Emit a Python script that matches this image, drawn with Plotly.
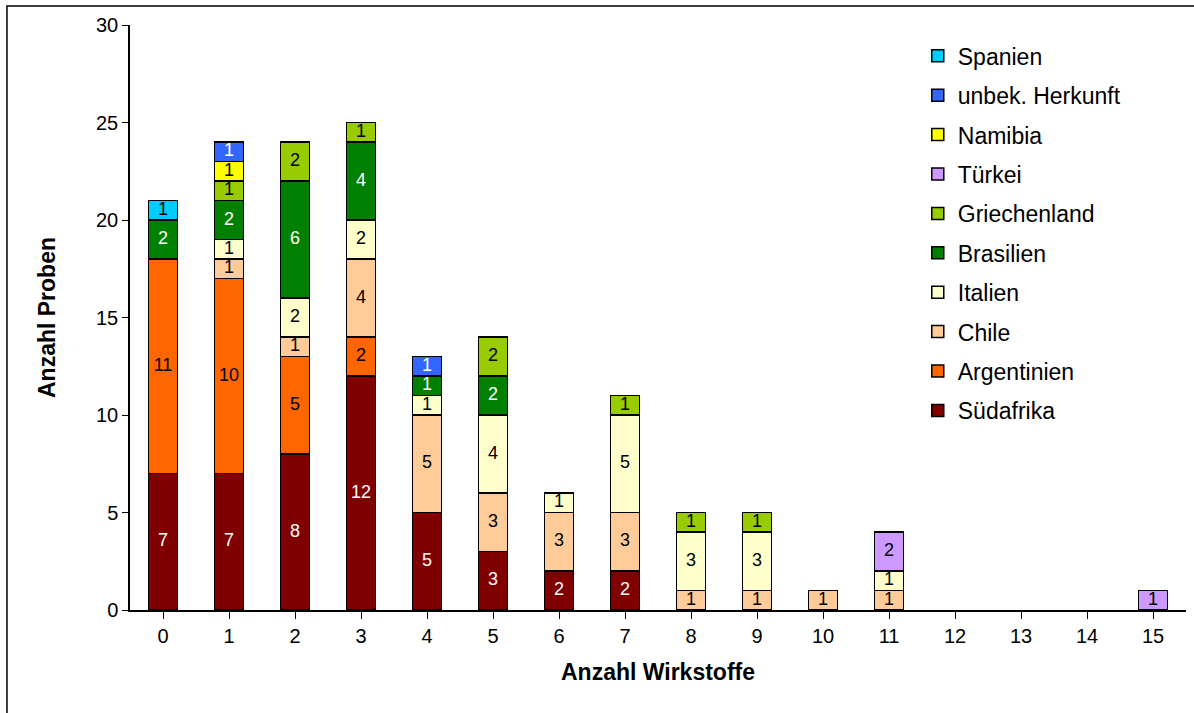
import plotly.graph_objects as go

# Anzahl Wirkstoffe je Probe (x) und Anzahl Proben je Herkunftsland
wirkstoffe = list(range(16))

suedafrika   = [7, 7, 8, 12, 5, 3, 2, 2, 0, 0, 0, 0, 0, 0, 0, 0]
argentinien  = [11, 10, 5, 2, 0, 0, 0, 0, 0, 0, 0, 0, 0, 0, 0, 0]
chile        = [0, 1, 1, 4, 5, 3, 3, 3, 1, 1, 1, 1, 0, 0, 0, 0]
italien      = [0, 1, 2, 2, 1, 4, 1, 5, 3, 3, 0, 1, 0, 0, 0, 0]
brasilien    = [2, 2, 6, 4, 1, 2, 0, 0, 0, 0, 0, 0, 0, 0, 0, 0]
griechenland = [0, 1, 2, 1, 0, 2, 0, 1, 1, 1, 0, 0, 0, 0, 0, 0]
tuerkei      = [0, 0, 0, 0, 0, 0, 0, 0, 0, 0, 0, 2, 0, 0, 0, 1]
namibia      = [0, 1, 0, 0, 0, 0, 0, 0, 0, 0, 0, 0, 0, 0, 0, 0]
unbekannt    = [0, 1, 0, 0, 1, 0, 0, 0, 0, 0, 0, 0, 0, 0, 0, 0]
spanien      = [1, 0, 0, 0, 0, 0, 0, 0, 0, 0, 0, 0, 0, 0, 0, 0]

# (name, values, fill colour, label colour) stacked from bottom to top
serien = [
    ("Südafrika", suedafrika, "#800000", "white"),
    ("Argentinien", argentinien, "#FF6600", "black"),
    ("Chile", chile, "#FFCC99", "black"),
    ("Italien", italien, "#FFFFCC", "black"),
    ("Brasilien", brasilien, "#008000", "white"),
    ("Griechenland", griechenland, "#99CC00", "black"),
    ("Türkei", tuerkei, "#CC99FF", "black"),
    ("Namibia", namibia, "#FFFF00", "black"),
    ("unbek. Herkunft", unbekannt, "#3366FF", "white"),
    ("Spanien", spanien, "#00CCFF", "black"),
]

FONT = "Liberation Sans, Arial, sans-serif"

fig = go.Figure()
basis = [0] * len(wirkstoffe)
for k, (name, werte, farbe, textfarbe) in enumerate(serien):
    fig.add_trace(go.Bar(
        x=wirkstoffe,
        y=[v if v else None for v in werte],
        name=name,
        legendgroup=name,
        legendrank=100 - k,  # top series listed first in the legend
        marker=dict(color=farbe, line=dict(color="black", width=1.5)),
        hoverinfo="x+y+name",
    ))
    # segment labels, centred in each stacked segment
    xs, ys, ts = [], [], []
    for i, v in enumerate(werte):
        if v:
            xs.append(wirkstoffe[i])
            ys.append(basis[i] + v / 2)
            ts.append(str(v))
        basis[i] += v
    fig.add_trace(go.Scatter(
        x=xs, y=ys, text=ts, mode="text",
        textposition="middle center",
        textfont=dict(color=textfarbe, size=18, family=FONT),
        showlegend=False, hoverinfo="skip",
    ))

fig.update_layout(
    barmode="stack",
    bargap=0.56,
    width=1194,
    height=713,
    margin=dict(l=130, r=8, t=25, b=103),
    paper_bgcolor="white",
    plot_bgcolor="white",
    font=dict(family=FONT, color="black", size=20),
    legend=dict(
        traceorder="grouped",
        x=0.746, y=0.984, xanchor="left", yanchor="top",
        font=dict(size=23, family=FONT),
        tracegroupgap=6.5,
        bgcolor="rgba(0,0,0,0)",
    ),
    xaxis=dict(
        range=[-0.5, 15.5],
        tickmode="array",
        tickvals=wirkstoffe,
        ticktext=[str(v) for v in wirkstoffe],
        tickson="boundaries",
        ticks="outside",
        ticklen=7,
        tickcolor="black",
        showline=True,
        linecolor="black",
        linewidth=1.5,
        showgrid=False,
        zeroline=False,
        tickfont=dict(size=20),
        title=dict(text="<b>Anzahl Wirkstoffe</b>", font=dict(size=23), standoff=18),
    ),
    yaxis=dict(
        range=[0, 30],
        dtick=5,
        ticks="outside",
        ticklen=6,
        tickcolor="black",
        showline=True,
        linecolor="black",
        linewidth=1.5,
        showgrid=False,
        zeroline=False,
        tickfont=dict(size=20),
        title=dict(text="<b>Anzahl Proben</b>", font=dict(size=23), standoff=34),
    ),
)

# outer chart frame
fig.add_shape(
    type="rect", xref="paper", yref="paper",
    x0=-0.1165, x1=1.2, y0=-0.3, y1=1.0325,
    line=dict(color="black", width=1.5),
    fillcolor="rgba(0,0,0,0)",
    layer="above",
)

fig.write_html("out.html")
